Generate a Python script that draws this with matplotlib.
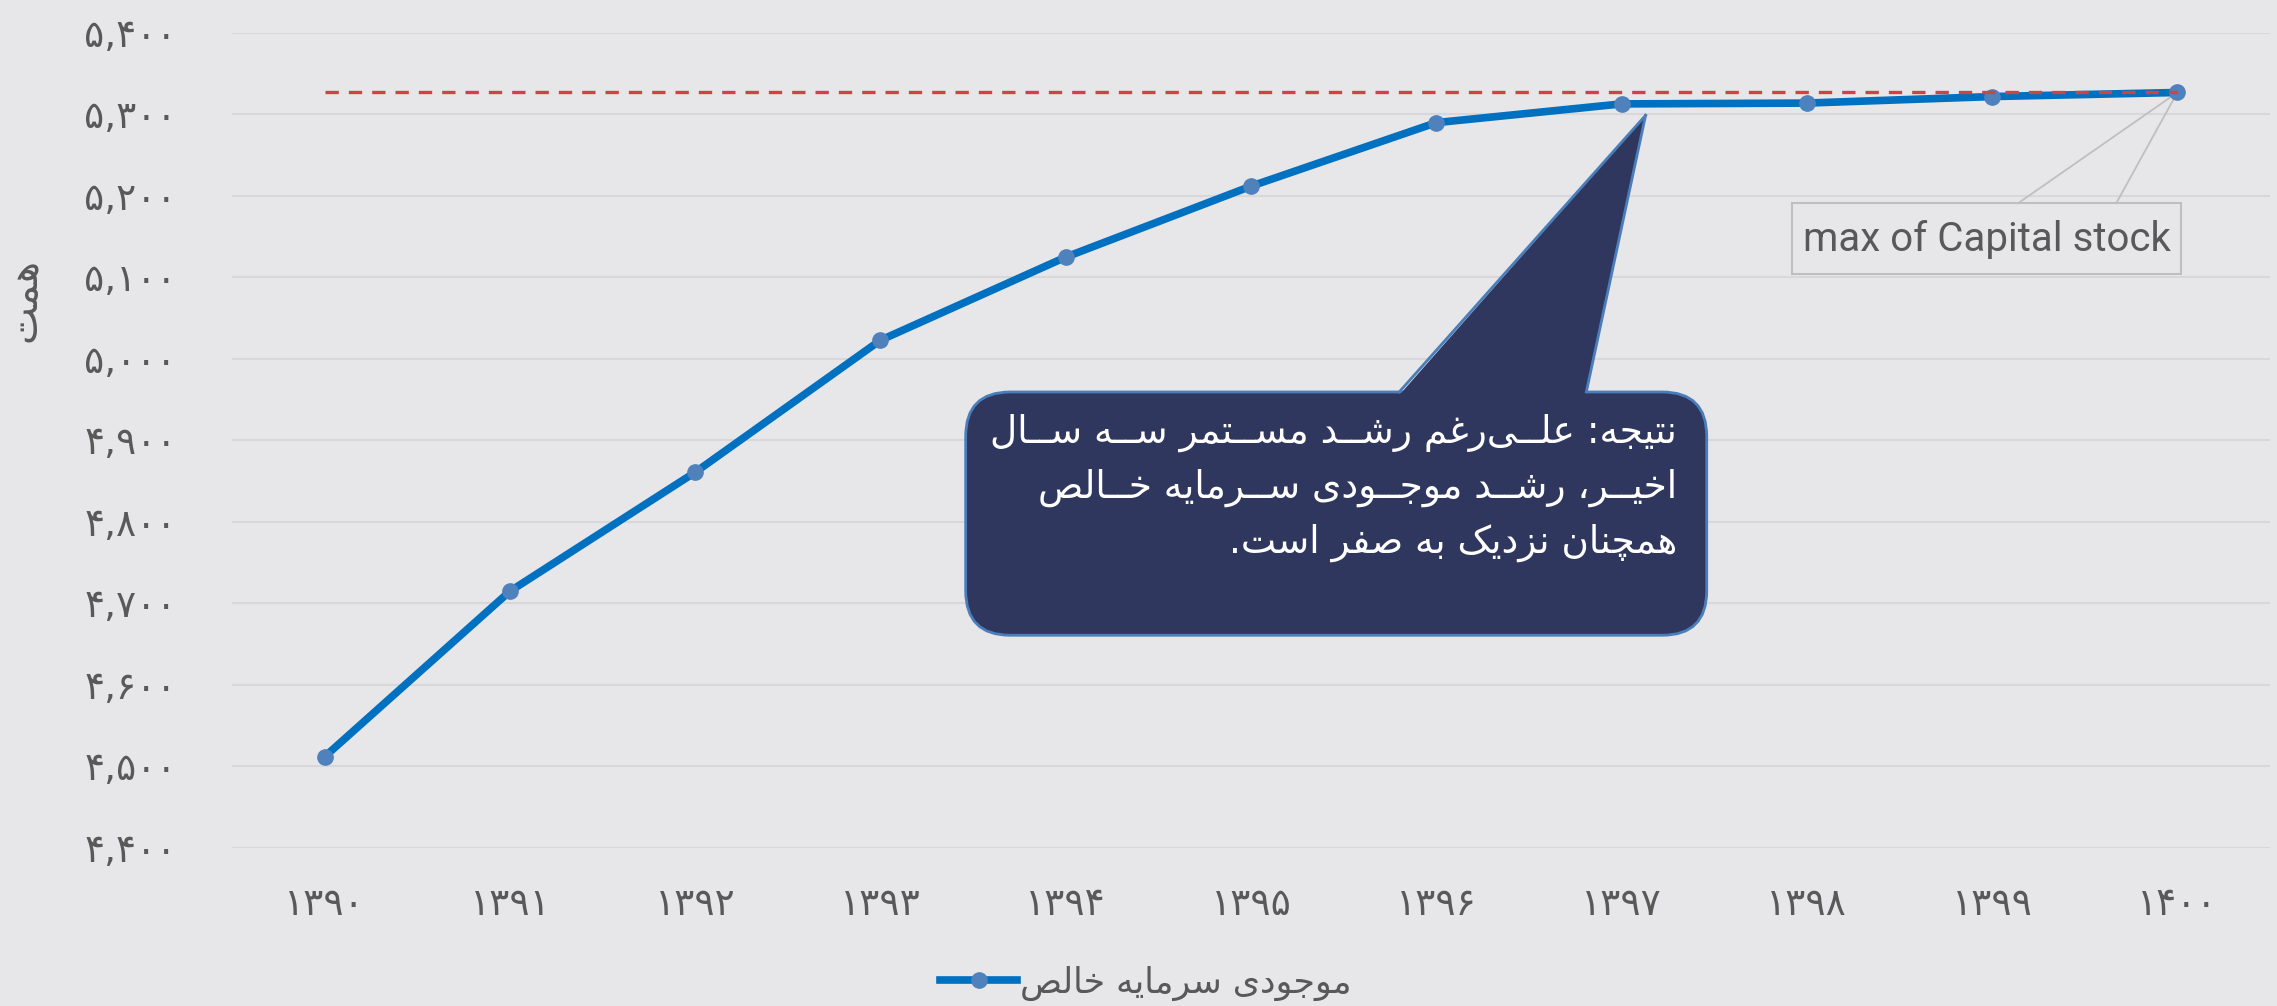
import matplotlib as mpl
import matplotlib.pyplot as plt
from matplotlib.patches import FancyBboxPatch, Polygon, Rectangle
from matplotlib.lines import Line2D

mpl.use('Agg')

# data
years = [1390, 1391, 1392, 1393, 1394, 1395, 1396, 1397, 1398, 1399, 1400]
capital = [4512, 4715, 4861, 5023, 5125, 5212, 5290, 5313, 5314, 5322, 5327]
y_ticks = [4400, 4500, 4600, 4700, 4800, 4900, 5000, 5100, 5200, 5300, 5400]

series_label = "موجودی سرمایه خالص"
y_label = "همت"
note_lines = [
    "نتیجه: علــی‌رغم رشــد مســتمر ســه ســال",
    "اخیــر، رشــد موجــودی ســرمایه خــالص",
    "همچنان نزدیک به صفر است.",
]
max_label = "max of Capital stock"

# --- tiny persian shaper (matplotlib has no complex text layout) ---
FORMS = {
    'ا': ('\uFE8D', '\uFE8E', None, None),
    'ب': ('\uFE8F', '\uFE90', '\uFE91', '\uFE92'),
    'ت': ('\uFE95', '\uFE96', '\uFE97', '\uFE98'),
    'ج': ('\uFE9D', '\uFE9E', '\uFE9F', '\uFEA0'),
    'خ': ('\uFEA5', '\uFEA6', '\uFEA7', '\uFEA8'),
    'د': ('\uFEA9', '\uFEAA', None, None),
    'ر': ('\uFEAD', '\uFEAE', None, None),
    'ز': ('\uFEAF', '\uFEB0', None, None),
    'س': ('\uFEB1', '\uFEB2', '\uFEB3', '\uFEB4'),
    'ش': ('\uFEB5', '\uFEB6', '\uFEB7', '\uFEB8'),
    'ص': ('\uFEB9', '\uFEBA', '\uFEBB', '\uFEBC'),
    'ع': ('\uFEC9', '\uFECA', '\uFECB', '\uFECC'),
    'غ': ('\uFECD', '\uFECE', '\uFECF', '\uFED0'),
    'ف': ('\uFED1', '\uFED2', '\uFED3', '\uFED4'),
    'ل': ('\uFEDD', '\uFEDE', '\uFEDF', '\uFEE0'),
    'م': ('\uFEE1', '\uFEE2', '\uFEE3', '\uFEE4'),
    'ن': ('\uFEE5', '\uFEE6', '\uFEE7', '\uFEE8'),
    'ه': ('\uFEE9', '\uFEEA', '\uFEEB', '\uFEEC'),
    'و': ('\uFEED', '\uFEEE', None, None),
    'ی': ('\uFBFC', '\uFBFD', '\uFBFE', '\uFBFF'),
    'ک': ('\uFB8E', '\uFB8F', '\uFB90', '\uFB91'),
    'چ': ('\uFB7A', '\uFB7B', '\uFB7C', '\uFB7D'),
}
TATWEEL = '\u0640'


def joins_next(c):
    return c == TATWEEL or (c in FORMS and FORMS[c][2] is not None)


def joins_prev(c):
    return c == TATWEEL or c in FORMS


def shape(text):
    out = []
    for i, c in enumerate(text):
        if c not in FORMS:
            out.append(c)
            continue
        prev = text[i - 1] if i > 0 else ''
        nxt = text[i + 1] if i + 1 < len(text) else ''
        a = prev != '' and joins_next(prev)
        b = nxt != '' and joins_prev(nxt) and FORMS[c][2] is not None
        iso, fin, ini, med = FORMS[c]
        out.append(med if a and b else fin if a else ini if b else iso)
    return ''.join(out).replace('\u200c', '')[::-1]


def fa_num(n, sep=True):
    s = format(n, ',') if sep else str(n)
    return s.translate(str.maketrans('0123456789', '۰۱۲۳۴۵۶۷۸۹'))


bg = '#E7E6E9'
txt = '#595959'
fa_font = 'DejaVu Sans'

fig = plt.figure(figsize=(22.77, 10.06), dpi=100, facecolor=bg)
ax = fig.add_axes([0.1019, 0.1571, 0.895, 0.8101], facecolor=bg)

x = list(range(len(years)))
ax.plot(x, capital, color='#0070C0', lw=5.5, marker='o', ms=11,
        mfc='#4F81BD', mec='#4F81BD', zorder=4, label=shape(series_label))
peak = max(capital)
ax.plot([x[0], x[-1]], [peak, peak], color='#D04343', lw=2.4,
        dashes=(4, 3), zorder=5)

ax.set_xlim(-0.5, len(years) - 0.5)
ax.set_ylim(y_ticks[0], y_ticks[-1])
ax.set_yticks(y_ticks)
ax.set_yticklabels([fa_num(v) for v in y_ticks], fontsize=27, color=txt,
                   family=fa_font)
ax.set_xticks(x)
ax.set_xticklabels([fa_num(v, False) for v in years], fontsize=27, color=txt,
                   family=fa_font)
ax.tick_params(axis='y', length=0, pad=40)
ax.tick_params(axis='x', length=0, pad=28)
ax.grid(axis='y', color='#D8D7DA', lw=1.5, zorder=0)
for s in ax.spines.values():
    s.set_visible(False)

ax.set_ylabel(shape(y_label), fontsize=29, color=txt, family=fa_font)
ax.yaxis.set_label_coords(-0.092, 0.672)

# max label box with leader lines
ax.add_patch(Rectangle((7.92, 5104), 2.10, 87, fill=False, ec='#BFBFBF',
                       lw=1.5, zorder=3))
ax.text(8.97, 5147, max_label, fontsize=29, color=txt, family='Roboto',
        ha='center', va='center', zorder=3)
for bx in (9.14, 9.67):
    ax.plot([bx, x[-1]], [5191, peak], color='#BFBFBF', lw=1.3, zorder=3)

# callout
aspect = (185.2 / 0.815)
box_top = 4959.5
ax.add_patch(FancyBboxPatch((3.46, 4661), 4.0, box_top - 4661,
                            boxstyle='round,pad=0,rounding_size=0.24',
                            mutation_aspect=aspect, fc='#2F375E',
                            ec='#4A7EBB', lw=2, zorder=6))
tip = (7.13, 5299)
ax.add_patch(Polygon([(5.80, box_top - 4), tip, (6.81, box_top - 4)],
                     closed=True, fc='#2F375E', ec='none', zorder=7))
for bx in (5.80, 6.81):
    ax.plot([bx, tip[0]], [box_top, tip[1]], color='#4A7EBB', lw=2,
            zorder=7)
ax.text(7.30, 4933, '\n'.join(shape(l) for l in note_lines), fontsize=27,
        color='white', family=fa_font, ha='right', va='top',
        linespacing=1.58, zorder=8)

leg = fig.legend(handles=[Line2D([], [], color='#0070C0', lw=5.5, marker='o',
                                 ms=11, mfc='#4F81BD', mec='#4F81BD',
                                 label=shape(series_label))],
                 loc='center', bbox_to_anchor=(1146 / 2277, 1 - 983 / 1006),
                 frameon=False, handlelength=2.2, handletextpad=0.1,
                 prop={'family': fa_font, 'size': 25})
for t in leg.get_texts():
    t.set_color(txt)

fig.savefig('out.png', dpi=100, facecolor=bg)
